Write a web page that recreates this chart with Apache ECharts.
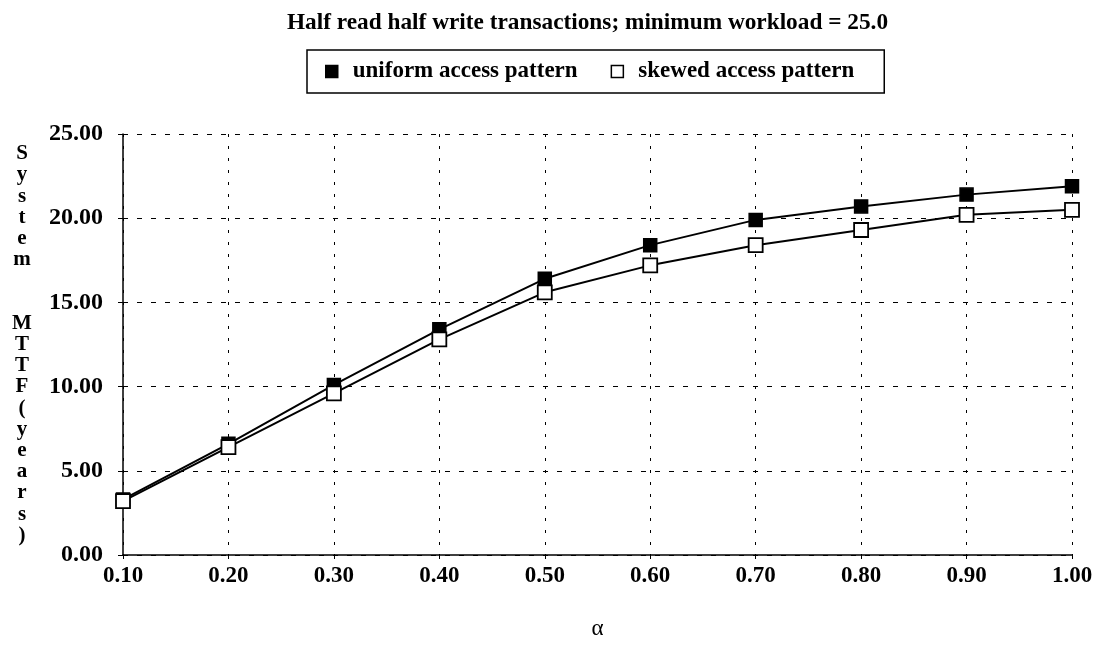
<!DOCTYPE html>
<html>
<head>
<meta charset="utf-8">
<script src="https://cdn.jsdelivr.net/npm/echarts@6/dist/echarts.min.js"></script>
<style>
html,body{margin:0;padding:0;background:#fff;}
#chart{width:1097px;height:645px;}
</style>
</head>
<body>
<div id="chart"></div>
<script>
const categories = ['0.10','0.20','0.30','0.40','0.50','0.60','0.70','0.80','0.90','1.00'];
const uniform = [3.3, 6.6, 10.1, 13.4, 16.4, 18.4, 19.9, 20.7, 21.4, 21.9];
const skewed  = [3.2, 6.4, 9.6, 12.8, 15.6, 17.2, 18.4, 19.3, 20.2, 20.5];
const yTicks = [0, 5, 10, 15, 20, 25];
const titleText = 'Half read half write transactions; minimum workload = 25.0';
const yName = 'System  MTTF(years)';
const xName = 'α';

const FONT = '"Liberation Serif", "DejaVu Serif", serif';
const chart = echarts.init(document.getElementById('chart'));

const yNameStacked = yName.split('').join('\n');

chart.setOption({
  backgroundColor: '#fff',
  animation: false,
  title: {
    text: titleText,
    left: 282,
    top: 6,
    textStyle: { fontFamily: FONT, fontWeight: 'bold', fontSize: 23.3, color: '#000' }
  },
  legend: {
    left: 307,
    top: 50,
    orient: 'horizontal',
    icon: 'rect',
    itemWidth: 12,
    itemHeight: 12,
    itemGap: 33,
    padding: [10, 30, 10, 18],
    borderColor: '#000',
    borderWidth: 1.5,
    textStyle: { fontFamily: FONT, fontWeight: 'bold', fontSize: 23, color: '#000', padding: [0, 0, 0, 10] },
    data: [
      { name: 'uniform access pattern', itemStyle: { color: '#000', borderColor: '#000', borderWidth: 1.5 } },
      { name: 'skewed access pattern', itemStyle: { color: '#fff', borderColor: '#000', borderWidth: 1.5 } }
    ]
  },
  grid: { left: 123, right: 25, top: 134, bottom: 83 },
  xAxis: {
    type: 'category',
    data: categories,
    boundaryGap: false,
    name: xName,
    nameLocation: 'middle',
    nameGap: 62,
    nameTextStyle: { fontFamily: FONT, fontSize: 23, color: '#000' },
    axisLine: { lineStyle: { color: '#000', width: 1.5 } },
    axisTick: { show: true, length: 4, lineStyle: { color: '#000' } },
    axisLabel: { fontFamily: FONT, fontWeight: 'bold', fontSize: 23, color: '#000', margin: 10 },
    splitLine: { show: true, lineStyle: { color: '#000', type: [3, 9], width: 1 } }
  },
  yAxis: {
    type: 'value',
    min: 0,
    max: 25,
    interval: 5,
    name: yNameStacked,
    nameLocation: 'middle',
    nameRotate: 0,
    nameGap: 101,
    nameTextStyle: { fontFamily: FONT, fontWeight: 'bold', fontSize: 21, color: '#000', lineHeight: 21.2, align: 'center', padding: [38, 0, 0, 0] },
    axisLine: { show: true, lineStyle: { color: '#000', width: 1.5 } },
    axisTick: { show: true, length: 5, lineStyle: { color: '#000' } },
    axisLabel: {
      fontFamily: FONT, fontWeight: 'bold', fontSize: 24, color: '#000', margin: 20,
      formatter: v => yTicks.includes(v) ? v.toFixed(2) : ''
    },
    splitLine: { show: true, lineStyle: { color: '#000', type: [5, 9], width: 1 } }
  },
  series: [
    {
      name: 'uniform access pattern',
      type: 'line',
      data: uniform,
      symbol: 'rect',
      symbolSize: 13,
      lineStyle: { color: '#000', width: 2 },
      itemStyle: { color: '#000', borderColor: '#000', borderWidth: 1.5 },
      z: 3
    },
    {
      name: 'skewed access pattern',
      type: 'line',
      data: skewed,
      symbol: 'rect',
      symbolSize: 14,
      lineStyle: { color: '#000', width: 2 },
      itemStyle: { color: '#fff', borderColor: '#000', borderWidth: 1.8 },
      z: 4
    }
  ]
});
</script>
</body>
</html>
